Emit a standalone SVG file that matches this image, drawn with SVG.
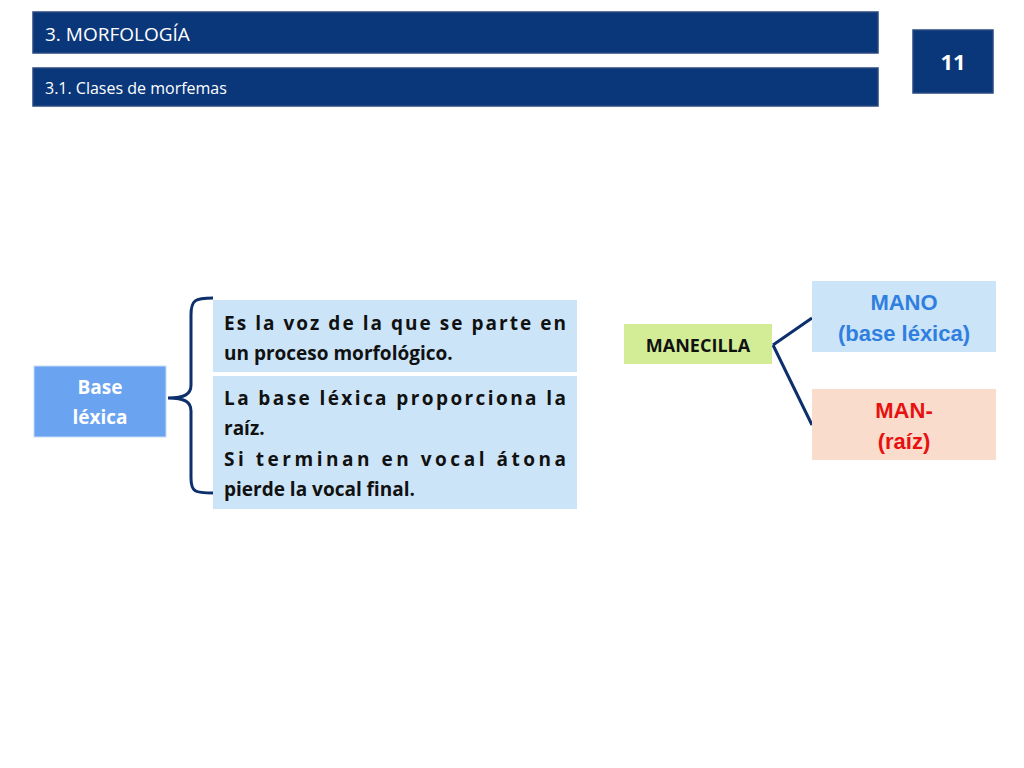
<svg xmlns="http://www.w3.org/2000/svg" width="1024" height="768" viewBox="0 0 1024 768">
<style>
.h{fill:#0a377a;stroke:#2a4a80;stroke-width:1.5}
.ht{font-family:"Open Sans","Liberation Sans",sans-serif;fill:#fff}
.b{font-family:"Open Sans","Liberation Sans",sans-serif;font-weight:bold;font-size:19px;fill:#111}
.a{font-family:"Liberation Sans",Arial,sans-serif;font-weight:bold;font-size:22px;text-anchor:middle}
.c{fill:none;stroke:#0d2f6b;stroke-width:3}
</style>
<rect width="1024" height="768" fill="#fff"/>
<g id="header">
<rect class="h" x="33" y="12" width="845" height="41"/>
<text class="ht" x="45" y="41" font-size="19">3. MORFOLOGÍA</text>
<rect class="h" x="33" y="68" width="845" height="38"/>
<text class="ht" x="45" y="94" font-size="16">3.1. Clases de morfemas</text>
<rect class="h" x="913" y="30" width="80" height="63"/>
<text class="ht" x="953" y="70" font-size="22" font-weight="bold" text-anchor="middle">11</text>
</g>
<g id="connectors">
<path class="c" d="M213,298 C195,298 191,300 191,315 L191,385 C191,394 185,398 168,398 C185,398 191,402 191,411 L191,478 C191,492 195,493 213,493"/>
<path class="c" d="M773,345 L812,318 M773,345 L812,425"/>
</g>
<g id="base">
<rect x="34" y="366" width="132" height="71" fill="#6aa3f0" stroke="#c6dcf6" stroke-width="1"/>
<text x="100" y="394" text-anchor="middle" font-family="Open Sans,Liberation Sans,sans-serif" font-weight="bold" font-size="19" fill="#fff">Base</text>
<text x="100" y="424" text-anchor="middle" font-family="Open Sans,Liberation Sans,sans-serif" font-weight="bold" font-size="19" fill="#fff">léxica</text>
</g>
<g id="def1">
<rect x="213" y="300" width="364" height="72" fill="#cce4f7"/>
<text class="b" x="224" y="330" textLength="342" lengthAdjust="spacing">Es la voz de la que se parte en</text>
<text class="b" x="224" y="360">un proceso morfológico.</text>
</g>
<g id="def2">
<rect x="213" y="376" width="364" height="133" fill="#cce4f7"/>
<text class="b" x="224" y="405" textLength="342" lengthAdjust="spacing">La base léxica proporciona la</text>
<text class="b" x="224" y="435">raíz.</text>
<text class="b" x="224" y="466" textLength="342" lengthAdjust="spacing">Si terminan en vocal átona</text>
<text class="b" x="224" y="496">pierde la vocal final.</text>
</g>
<g id="manecilla">
<rect x="624" y="324" width="148" height="40" fill="#d2ed95"/>
<text x="698" y="352" text-anchor="middle" font-family="Open Sans,Liberation Sans,sans-serif" font-weight="bold" font-size="18" fill="#111">MANECILLA</text>
</g>
<g id="mano">
<rect x="812" y="281" width="184" height="71" fill="#cce4f7"/>
<text class="a" x="904" y="310" fill="#2f7fe0">MANO</text>
<text class="a" x="904" y="341" fill="#2f7fe0">(base léxica)</text>
</g>
<g id="man">
<rect x="812" y="389" width="184" height="71" fill="#f9dccb"/>
<text class="a" x="904" y="418" fill="#e81010">MAN-</text>
<text class="a" x="904" y="449" fill="#e81010">(raíz)</text>
</g>
</svg>
